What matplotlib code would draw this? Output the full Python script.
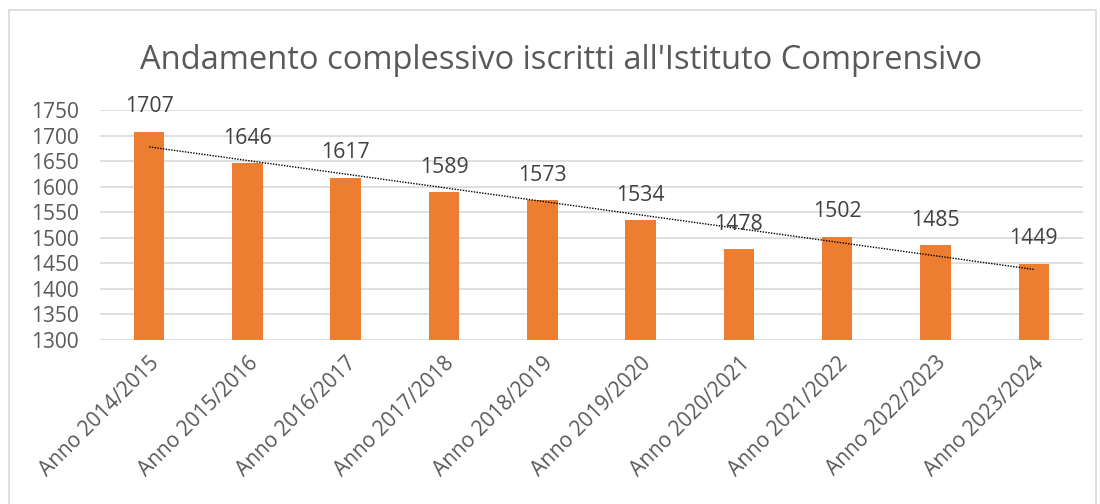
import numpy as np
import matplotlib
matplotlib.use("Agg")
from matplotlib import pyplot as plt
from matplotlib.patches import Rectangle

# dati
anni = ["Anno 2014/2015", "Anno 2015/2016", "Anno 2016/2017", "Anno 2017/2018",
        "Anno 2018/2019", "Anno 2019/2020", "Anno 2020/2021", "Anno 2021/2022",
        "Anno 2022/2023", "Anno 2023/2024"]
iscritti = [1707, 1646, 1617, 1589, 1573, 1534, 1478, 1502, 1485, 1449]
y_ticks = [1300, 1350, 1400, 1450, 1500, 1550, 1600, 1650, 1700, 1750]

plt.rcParams['font.family'] = ['Open Sans', 'DejaVu Sans']
grigio = '#595959'

fig = plt.figure(figsize=(11, 5.04), dpi=100)
ax = fig.add_axes([0.0909, 0.3254, 0.8936, 0.4563])

x = np.arange(len(anni))
ax.bar(x, iscritti, width=0.31, color='#ED7D31', zorder=3)

# linea di tendenza lineare
coef = np.polyfit(x, iscritti, 1)
ax.plot(x, np.polyval(coef, x), ls=(0, (1, 1)), color='black', lw=1, zorder=4)

for xi, v in zip(x, iscritti):
    ax.annotate(str(v), (xi, v), xytext=(0, 18), textcoords='offset points',
                ha='center', va='center', fontsize=15.3, color='#404040', zorder=5)

ax.set_xlim(-0.5, len(anni) - 0.5)
ax.set_ylim(1300, 1750)
ax.set_yticks(y_ticks)
ax.set_xticks(x)
ax.set_xticklabels(anni, rotation=45, ha='right', rotation_mode='anchor')
ax.tick_params(axis='both', length=0, labelsize=15, labelcolor=grigio)
ax.tick_params(axis='x', pad=9)
ax.tick_params(axis='y', pad=15)
ax.grid(axis='y', color='#D9D9D9', lw=1.2, zorder=0)
for s in ax.spines.values():
    s.set_visible(False)

fig.text(0.51, 0.879, "Andamento complessivo iscritti all'Istituto Comprensivo",
         ha='center', va='center', fontsize=23.5, color=grigio)

fig.patches.append(Rectangle((0.008, -0.01), 0.988, 0.99, transform=fig.transFigure,
                             fill=False, edgecolor='#D9D9D9', lw=1.2))

fig.savefig('out.png', dpi=100)
